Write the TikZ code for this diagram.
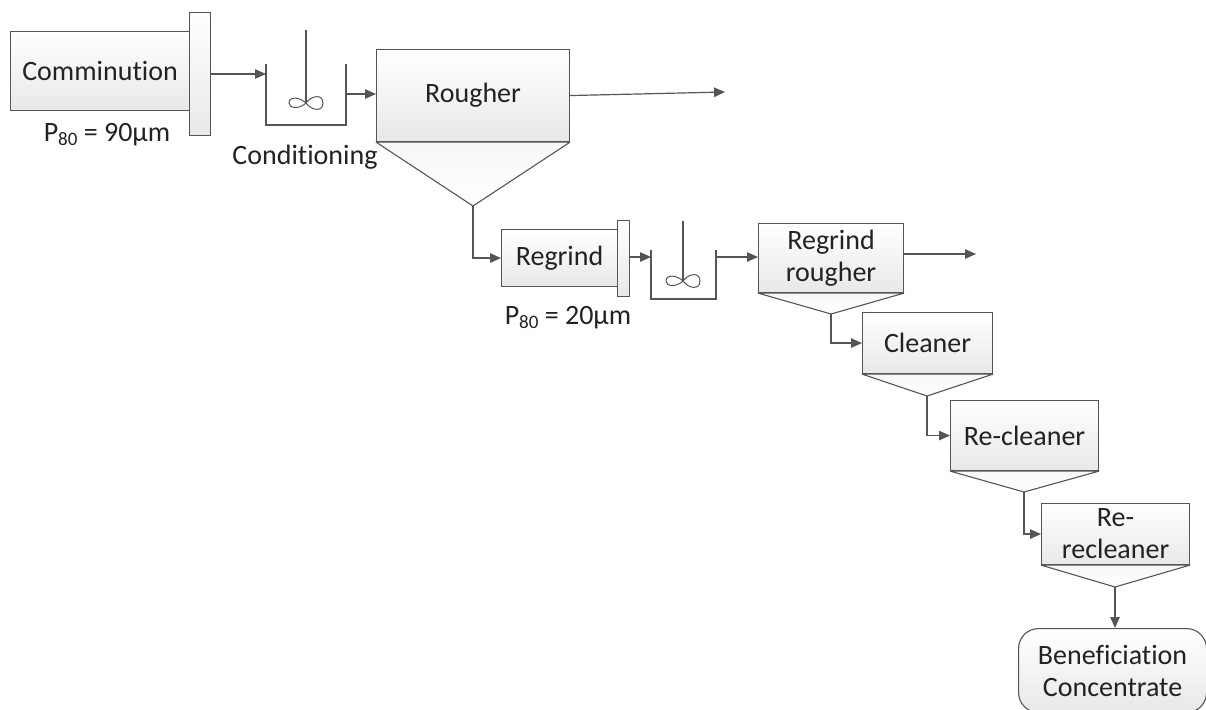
\documentclass[tikz,border=0pt]{standalone}
\usepackage{fontspec}
\setmainfont{Carlito}[Ligatures=NoCommon]
\usetikzlibrary{arrows.meta}
\definecolor{ln}{HTML}{555555}
\definecolor{txt}{HTML}{222222}
\tikzset{
  x=1pt,y=-1pt,
  every node/.append style={text=txt,font=\fontsize{28}{32}\selectfont},
  procbox/.style={draw=ln,line width=1.1pt,top color=white,bottom color=black!9,inner sep=0pt,align=center,anchor=north west},
  hopper/.style={draw=ln,line width=1.1pt,line join=bevel,top color=black!3,bottom color=white},
  flow/.style={draw=ln,line width=1.2pt,-{Triangle[length=11pt,width=9.5pt]}},
  tank/.style={draw=ln,line width=1.1pt},
  blade/.style={draw=ln,line width=1pt},
  lbl/.style={inner sep=0pt}
}
\newcommand{\impeller}[2]{%
  \begin{scope}[shift={(#1,#2)}]
  \draw[blade] (0,0) .. controls (-6,-6) and (-17,-7) .. (-17,0) .. controls (-17,6) and (-6,6) .. (0,0)
     .. controls (6,-8) and (17,-9) .. (17,0) .. controls (17,9) and (6,8) .. (0,0);
  \end{scope}}
\begin{document}
\begin{tikzpicture}
\useasboundingbox (0,0) rectangle (1206,709);
% Comminution
\node[procbox,minimum width=179pt,minimum height=79pt] (comm) at (10,31) {Comminution};
\node[procbox,minimum width=21pt,minimum height=123pt] (commf) at (189,12) {};
\node[lbl] (p90) at (107,135) {P\raisebox{-4pt}{\fontsize{19}{20}\selectfont 80} = 90µm};
% Conditioning tank
\coordinate (t1a) at (266,64); \coordinate (t1b) at (266,125); \coordinate (t1c) at (346,125); \coordinate (t1d) at (346,64);
\coordinate (t1in) at (266,74); \coordinate (t1out) at (346,94);
\draw[tank] (t1a) -- (t1b) -- (t1c) -- (t1d);
\coordinate (s1a) at (306,30); \coordinate (s1b) at (306,103);
\draw[tank] (s1a) -- (s1b);
\impeller{306}{103}
\node[lbl] (cond) at (305,157) {Conditioning};
% Rougher
\node[procbox,minimum width=193pt,minimum height=92pt] (rough) at (376,49) {\raisebox{3pt}{Rougher}};
\coordinate (rapex) at (473,206);
\draw[hopper] (rough.south west) -- (rough.south east) -- (rapex) -- cycle;
\coordinate (rend) at (725,92);
% Regrind
\node[procbox,minimum width=116pt,minimum height=57pt] (reg) at (501,229) {Regrind};
\node[procbox,minimum width=12pt,minimum height=76pt] (regf) at (617,220) {};
\node[lbl] (p20) at (568,318) {P\raisebox{-4pt}{\fontsize{19}{20}\selectfont 80} = 20µm};
% Second tank
\coordinate (t2a) at (651,250); \coordinate (t2b) at (651,299); \coordinate (t2c) at (716,299); \coordinate (t2d) at (716,250);
\coordinate (t2in) at (651,257); \coordinate (t2out) at (716,257);
\draw[tank] (t2a) -- (t2b) -- (t2c) -- (t2d);
\coordinate (s2a) at (683,221); \coordinate (s2b) at (683,281);
\draw[tank] (s2a) -- (s2b);
\impeller{683}{281}
% Regrind rougher
\node[procbox,minimum width=145pt,minimum height=69pt] (rr) at (758,223) {Regrind\\rougher};
\coordinate (rrapex) at (831,314);
\draw[hopper] (rr.south west) -- (rr.south east) -- (rrapex) -- cycle;
\coordinate (rrend) at (976,254);
% Cleaner
\node[procbox,minimum width=130pt,minimum height=61pt] (cl) at (862,312) {Cleaner};
\coordinate (clapex) at (927,396);
\draw[hopper] (cl.south west) -- (cl.south east) -- (clapex) -- cycle;
% Re-cleaner
\node[procbox,minimum width=148pt,minimum height=70pt] (rc) at (950,400) {Re-cleaner};
\coordinate (rcapex) at (1024,492);
\draw[hopper] (rc.south west) -- (rc.south east) -- (rcapex) -- cycle;
% Re-recleaner
\node[procbox,minimum width=148pt,minimum height=61pt] (rrc) at (1041,503) {Re-\\recleaner};
\coordinate (rrcapex) at (1115,587);
\draw[hopper] (rrc.south west) -- (rrc.south east) -- (rrcapex) -- cycle;
% Concentrate
\node[procbox,rounded corners=20pt,minimum width=188pt,minimum height=84pt] (conc) at (1018,628) {Beneficiation\\Concentrate};
% Connectors
\draw[flow] (commf.east |- t1in) -- (t1in);
\draw[flow] (t1out) -- (rough.west |- t1out);
\draw[flow] (rough.east) -- (rend);
\draw[flow] (rapex) |- (reg.west);
\draw[flow] (regf.east |- t2in) -- (t2in);
\draw[flow] (t2out) -- (rr.west |- t2out);
\draw[flow] (rr.east |- rrend) -- (rrend);
\draw[flow] (rrapex) |- (cl.west);
\draw[flow] (clapex) |- (rc.west);
\draw[flow] (rcapex) |- (rrc.west);
\draw[flow] (rrcapex) -- (conc.north -| rrcapex);
\end{tikzpicture}
\end{document}
